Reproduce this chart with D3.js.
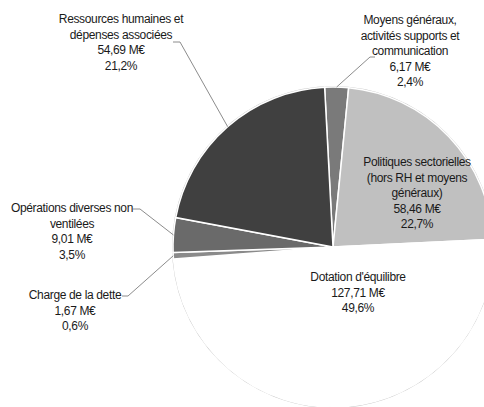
<!DOCTYPE html>
<html>
<head>
<meta charset="utf-8">
<script src="https://cdn.jsdelivr.net/npm/d3@7"></script>
<style>
  html, body { margin: 0; padding: 0; background: #fff; }
  svg text { font-family: "Liberation Sans", Arial, sans-serif; font-size: 12px; fill: #1a1a1a; letter-spacing: -0.35px; }
</style>
</head>
<body>
<svg id="chart" width="484" height="407"></svg>
<script>
// Budget breakdown, in the clockwise order the slices are drawn
const categories = [
  "Moyens généraux, activités supports et communication",
  "Politiques sectorielles (hors RH et moyens généraux)",
  "Dotation d'équilibre",
  "Charge de la dette",
  "Opérations diverses non ventilées",
  "Ressources humaines et dépenses associées"
];
const values = [6.17, 58.46, 127.71, 1.67, 9.01, 54.69];
const percentLabels = ["2,4%", "22,7%", "49,6%", "0,6%", "3,5%", "21,2%"];
const labelLines = [
  ["Moyens généraux,", "activités supports et", "communication"],
  ["Politiques sectorielles", "(hors RH et moyens", "généraux)"],
  ["Dotation d'équilibre"],
  ["Charge de la dette"],
  ["Opérations diverses non", "ventilées"],
  ["Ressources humaines et", "dépenses associées"]
];
const fills = ["#7a7a7a", "#c0c0c0", "#ffffff", "#8a8a8a", "#6a6a6a", "#404040"];

const svg = d3.select("#chart");
const cx = 333, cy = 247, R = 160;
const startAngle = -3 * Math.PI / 180;

const pie = d3.pie().sort(null).value(d => d)
  .startAngle(startAngle).endAngle(startAngle + 2 * Math.PI);
const arcs = pie(values);
const arc = d3.arc().innerRadius(0).outerRadius(R);

const g = svg.append("g").attr("transform", `translate(${cx},${cy})`);

// outer ring outline shows on the white slice
g.append("circle").attr("r", R).attr("fill", "none")
  .attr("stroke", "#c4c4c4").attr("stroke-width", 2);

g.selectAll("path.slice").data(arcs).enter().append("path")
  .attr("class", "slice")
  .attr("d", arc)
  .attr("fill", (d, i) => fills[i])
  .attr("stroke", "#ffffff")
  .attr("stroke-width", 1.5);

// label placement: [center x, first line y] in page coordinates, plus leader elbow
const labelPos = [
  { x: 410, y: 24, elbow: [[375, 57], [370, 57]] },
  { x: 417, y: 166 },
  { x: 358, y: 281 },
  { x: 75, y: 299, elbow: [[122, 296], [128, 296]] },
  { x: 72, y: 212, elbow: [[133, 209], [140, 209]] },
  { x: 121, y: 23, elbow: [[173, 42], [180, 42]] }
];
const lineH = 15.5;

arcs.forEach((d, i) => {
  const p = labelPos[i];
  const lines = labelLines[i].concat([
    d3.format(".2f")(values[i]).replace(".", ",") + " M€",
    percentLabels[i]
  ]);
  const t = svg.append("text").attr("text-anchor", "middle");
  lines.forEach((ln, k) => {
    t.append("tspan").attr("x", p.x).attr("y", p.y + k * lineH).text(ln);
  });
  if (p.elbow) {
    const mid = (d.startAngle + d.endAngle) / 2;
    const ex = cx + R * Math.sin(mid), ey = cy - R * Math.cos(mid);
    const pts = [p.elbow[0], p.elbow[1], [ex, ey]];
    svg.append("path")
      .attr("d", d3.line()(pts))
      .attr("fill", "none")
      .attr("stroke", "#8c8c8c")
      .attr("stroke-width", 1);
  }
});
</script>
</body>
</html>
